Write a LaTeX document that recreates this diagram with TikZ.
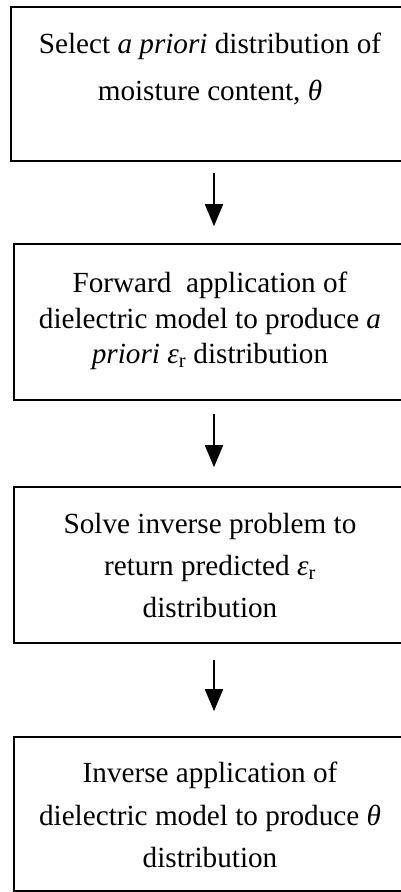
\documentclass[tikz,border=0pt]{standalone}
\usepackage{fontspec}
\setmainfont{Liberation Serif}
\usetikzlibrary{arrows.meta}
\begin{document}
\begin{tikzpicture}[x=1pt,y=-1pt,
  box/.style={draw=black, line width=1.6pt, inner sep=0pt, minimum width=406pt},
  txt/.style={align=center, inner sep=0pt, anchor=north},
  arr/.style={line width=1.7pt, -{Triangle[width=18pt,length=22pt]}}]
\useasboundingbox (0,0) rectangle (400,892);
\node[box, minimum height=154pt] (b1) at (214,84) {};
\node[box, minimum width=400pt, minimum height=156pt] (b2) at (214,322) {};
\node[box, minimum width=400pt, minimum height=156pt] (b3) at (214,565) {};
\node[box, minimum width=400pt, minimum height=154pt] (b4) at (214,814) {};
\node[txt, font=\fontsize{29.2}{47}\selectfont] (t1) at (210,33)
  {Select \textit{a priori} distribution of\\ moisture content, \textit{θ}};
\node[txt, font=\fontsize{29.2}{35.5}\selectfont] (t2) at (210,272)
  {Forward~ application of\\ dielectric model to produce \textit{a}\\ \textit{priori ε}\textsubscript{r} distribution};
\node[txt, font=\fontsize{29.2}{42}\selectfont] (t3) at (210,513)
  {Solve inverse problem to\\ return predicted \textit{ε}\textsubscript{r}\\ distribution};
\node[txt, font=\fontsize{29.2}{42.5}\selectfont] (t4) at (210,762)
  {Inverse application of\\ dielectric model to produce \textit{θ}\\ distribution};
\draw[arr] ([yshift=-11pt]b1.south) -- ([yshift=17pt]b2.north);
\draw[arr] ([yshift=-13pt]b2.south) -- ([yshift=19pt]b3.north);
\draw[arr] ([yshift=-16pt]b3.south) -- ([yshift=25pt]b4.north);
\end{tikzpicture}
\end{document}
